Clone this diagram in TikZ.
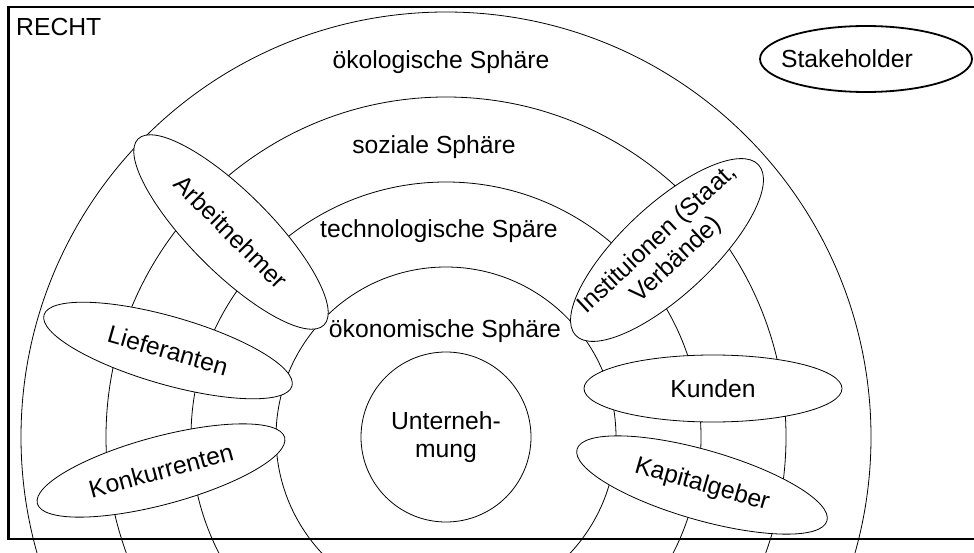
\documentclass[tikz,border=0pt]{standalone}
\usepackage{fontspec}
\setmainfont{Liberation Sans}
\usetikzlibrary{shapes.geometric}
\begin{document}
\begin{tikzpicture}[x=1pt,y=-1pt,
  lbl/.style={font=\fontsize{24.7}{28}\selectfont, inner sep=0pt, align=center},
  oval/.style={ellipse, draw, fill=white, line width=0.8pt, inner sep=0pt},
  stakeoval/.style={ellipse, draw, fill=white, line width=1.8pt, inner sep=0pt},
  ring/.style={line width=0.8pt},
  frame/.style={line width=2.4pt}]
\useasboundingbox (0,0) rectangle (974,553);
\clip (0,0) rectangle (974,553);
\fill[white] (0,0) rectangle (974,553);
\coordinate (C) at (446,437);
% concentric spheres
\foreach \r in {170,255,340,425} \draw[ring] (C) circle [radius=\r pt];
% stakeholder ellipses
\node[oval, minimum width=263pt, minimum height=80pt, rotate=-45] (arb) at (231,232) {};
\node[lbl, rotate=-45] (arbt) at (arb.center) {Arbeitnehmer};
\node[oval, minimum width=258pt, minimum height=68pt, rotate=-16] (lief) at (168,350.5) {};
\node[lbl, rotate=-16] (lieft) at (lief.center) {Lieferanten};
\node[oval, minimum width=256pt, minimum height=68pt, rotate=15] (konk) at (161,470.5) {};
\node[lbl, rotate=15] (konkt) at (konk.center) {Konkurrenten};
\node[oval, minimum width=250pt, minimum height=90pt, rotate=43] (inst) at (667,250) {};
\node[lbl, rotate=43] (instt) at (inst.center) {Instituionen (Staat,\\Verbände)};
\node[oval, minimum width=258pt, minimum height=67pt] (kund) at (713,388.5) {};
\node[lbl] (kundt) at (kund.center) {Kunden};
\node[oval, minimum width=260pt, minimum height=70pt, rotate=-16] (kap) at (702,485) {};
\node[lbl, rotate=-16] (kapt) at (kap.center) {Kapitalgeber};
% enterprise
\node[circle, draw, line width=0.8pt, fill=white, minimum size=170pt, inner sep=0pt] (unt) at (C) {};
\node[lbl] (untt) at (446,437) {Unterneh-\\mung};
% sphere labels
\node[lbl, anchor=base] (oek) at (441,69) {ökologische Sphäre};
\node[lbl, anchor=base] (soz) at (434,154) {soziale Sphäre};
\node[lbl, anchor=base] (tech) at (439,238) {technologische Späre};
\node[lbl, anchor=base] (oekon) at (445,337) {ökonomische Sphäre};
% legend
\node[stakeoval, minimum width=212pt, minimum height=66pt] (stake) at (866,59) {};
\node[lbl] (staket) at (847,59) {Stakeholder};
% frame
\draw[frame] (8.5,7) rectangle (1000,539);
\node[lbl, anchor=base west] (recht) at (16,36) {RECHT};
\end{tikzpicture}
\end{document}
